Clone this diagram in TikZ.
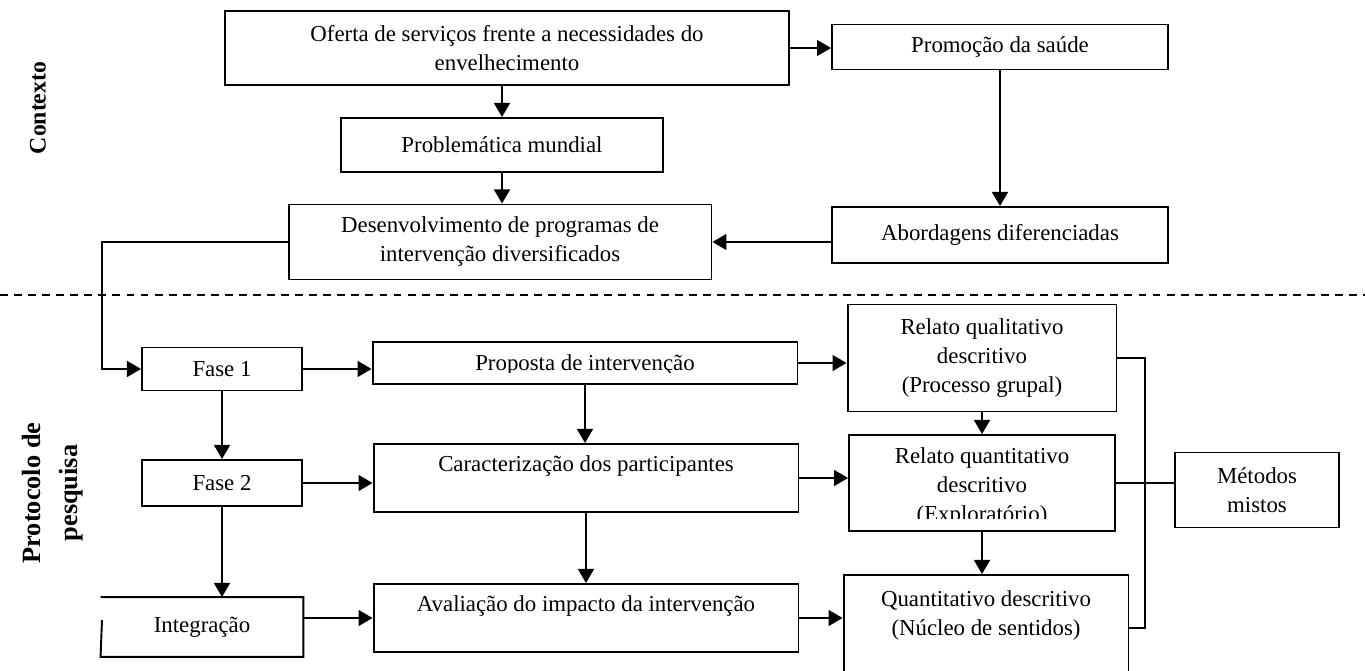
\documentclass[tikz,border=0pt]{standalone}
\usepackage{fontspec}
\setmainfont{Liberation Serif}
\usepackage{tikz}
\usetikzlibrary{arrows.meta,positioning}
\tikzstyle{caixa} = [rectangle, draw=black, line width=1.1pt, inner sep=2pt, text centered, align=center, font=\fontsize{13}{16.5}\selectfont]
\tikzstyle{texto} = [inner sep=0pt, align=center, font=\fontsize{13}{16.5}\selectfont]
\tikzstyle{rotulo} = [rotate=90, align=center, font=\fontsize{15}{21}\selectfont\bfseries]
\tikzstyle{seta} = [line width=1.2pt, -{Triangle[length=8pt,width=9pt]}]
\tikzstyle{ligacao} = [line width=0.8pt]
\tikzstyle{divisao} = [line width=0.8pt, dash pattern=on 4.5pt off 3.5pt]

\begin{document}
\begin{tikzpicture}[x=0.02cm, y=-0.02cm]
\useasboundingbox (0,0) rectangle (1365,671);

% Rotulos laterais
\node[rotulo, font=\fontsize{13.5}{20}\selectfont\bfseries] (contexto) at (38,108) {Contexto};
\node[rotulo] (protocolo) at (53,493) {Protocolo de\\pesquisa};

% Contexto
\node[caixa, minimum width=11.3cm, minimum height=1.48cm] (oferta) at (507,48) {Oferta de serviços frente a necessidades do\\envelhecimento};
\node[caixa, minimum width=6.72cm, minimum height=0.9cm] (promo) at (1000,47) {Promoção da saúde};
\node[caixa, minimum width=6.44cm, minimum height=1.08cm] (prob) at (502,145) {Problemática mundial};
\node[caixa, minimum width=8.46cm, minimum height=1.5cm] (desenv) at (500,242) {Desenvolvimento de programas de\\intervenção diversificados};
\node[caixa, minimum width=6.72cm, minimum height=1.12cm] (abord) at (1000,235) {Abordagens diferenciadas};

\draw[seta] (oferta.east) -- (oferta.east -| promo.west);
\draw[seta] (prob.north |- oferta.south) -- (prob.north);
\draw[seta] (prob.south) -- (prob.south |- desenv.north);
\draw[seta] (promo.south) -- (abord.north);
\draw[seta] (abord.west |- desenv.east) -- (desenv.east);

% Divisao
\coordinate (tracoE) at (0,295);
\coordinate (tracoD) at (1365,295);
\draw[divisao] (tracoE) -- (tracoD);

% Protocolo de pesquisa
\node[caixa, minimum width=3.2cm, minimum height=0.86cm] (fase1) at (222,369) {Fase 1};
\node[caixa, minimum width=3.2cm, minimum height=0.92cm] (fase2) at (222,483) {Fase 2};
\node[caixa, draw=none, minimum width=4.02cm, minimum height=1.16cm] (integ) at (202,627) {Integração};
\coordinate (integcorte) at (102,620);
\draw[line width=1.1pt] (integcorte) -- (integ.south west) -- (integ.south east) -- (integ.north east) -- (integ.north west);

\node[caixa, minimum width=8.5cm, minimum height=0.84cm] (prop) at (585,363) {};
\begin{scope}
\clip (372,342) rectangle (797,373);
\node[texto, anchor=base] (proptxt) at (585,371) {Proposta de intervenção};
\end{scope}
\node[caixa, minimum width=8.5cm, minimum height=1.36cm] (carac) at (586,478) {Caracterização dos participantes\\\phantom{X}};
\node[caixa, minimum width=8.5cm, minimum height=1.36cm] (aval) at (586,618) {Avaliação do impacto da intervenção\\\phantom{X}};

\node[caixa, minimum width=5.38cm, minimum height=2.14cm] (relqual) at (982,358) {Relato qualitativo\\descritivo\\(Processo grupal)};
\node[caixa, minimum width=5.32cm, minimum height=1.92cm] (relquant) at (982,483) {};
\begin{scope}
\clip (849,435) rectangle (1115,519);
\node[texto] (relquanttxt) at (982,487) {Relato quantitativo\\descritivo\\(Exploratório)};
\end{scope}
\node[caixa, minimum width=5.7cm, minimum height=2.12cm] (quant) at (986,628) {Quantitativo descritivo\\(Núcleo de sentidos)\\\phantom{X}};
\node[caixa, minimum width=3.28cm, minimum height=1.5cm] (metodos) at (1257,490) {Métodos\\mistos};

% Setas do protocolo
\coordinate (desvio) at (102,300);
\draw[seta] (desenv.west) -| (desvio) |- (fase1.west);
\draw[seta] (fase1.east) -- (fase1.east -| prop.west);
\draw[seta] (fase1.south) -- (fase2.north);
\draw[seta] (fase2.east) -- (fase2.east -| carac.west);
\draw[seta] (fase2.south) -- (fase2.south |- integ.north);
\draw[seta] (aval.west -| integ.east) -- (aval.west);
\draw[seta] (prop.east) -- (prop.east -| relqual.west);
\draw[seta] (prop.south) -- (prop.south |- carac.north);
\draw[seta] (carac.south) -- (carac.south |- aval.north);
\draw[seta] (carac.east) -- (carac.east -| relquant.west);
\draw[seta] (aval.east) -- (aval.east -| quant.west);
\draw[seta] (relqual.south) -- (relqual.south |- relquant.north);
\draw[seta] (relquant.south) -- (relquant.south |- quant.north);

% Metodos mistos
\coordinate (chave) at (1145,490);
\draw[ligacao] (relqual.east) -| (chave) |- (quant.east);
\draw[ligacao] (relquant.east) -- (relquant.east -| metodos.west);
\end{tikzpicture}
\end{document}
